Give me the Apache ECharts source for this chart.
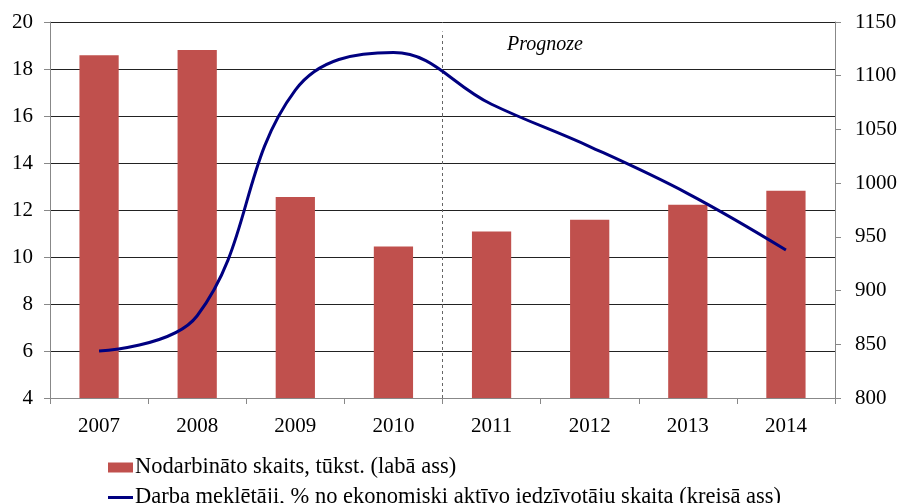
<!DOCTYPE html>
<html>
<head>
<meta charset="utf-8">
<script src="https://cdn.jsdelivr.net/npm/echarts@6/dist/echarts.min.js"></script>
<style>
  html, body { margin: 0; padding: 0; background: #fff; }
  #chart { width: 902px; height: 503px; }
</style>
</head>
<body>
<div id="chart"></div>
<script>
// dati
const years = ['2007', '2008', '2009', '2010', '2011', '2012', '2013', '2014'];
const employed = [1119, 1124, 987, 941, 955, 966, 980, 993];          // labā ass
const jobSeekers = [6.0, 7.5, 17.1, 18.7, 16.5, 14.7, 12.7, 10.3];   // kreisā ass
const forecastSplit = [[4, 4], [4, 19.6]];                            // robeža starp 2010 un 2011

const barName = 'Nodarbināto skaits, tūkst. (labā ass)';
const lineName = 'Darba meklētāji, % no ekonomiski aktīvo iedzīvotāju skaita (kreisā ass)';

const font = '"Liberation Serif", "Times New Roman", serif';
const gridColor = '#222';
const axisGray = '#888';

const chart = echarts.init(document.getElementById('chart'));

const legendText = { fontFamily: font, fontSize: 22.5, lineHeight: 22, color: '#000', padding: [0, 0, 0, -3] };

chart.setOption({
  animation: false,
  backgroundColor: '#fff',
  textStyle: { fontFamily: font },
  grid: { left: 50, right: 67, top: 22, bottom: 105 },
  legend: [
    {
      left: 103, top: 451,
      itemWidth: 25, itemHeight: 10,
      textStyle: legendText,
      data: [{ name: barName, icon: 'rect' }]
    },
    {
      left: 103, top: 481,
      itemWidth: 25, itemHeight: 10,
      textStyle: legendText,
      data: [{ name: lineName, icon: 'path://M0,3.5 L25,3.5 L25,6.5 L0,6.5 Z' }]
    }
  ],
  xAxis: [
    {
      type: 'category',
      data: years,
      axisLine: { lineStyle: { color: axisGray, width: 1 } },
      axisTick: { show: true, length: 6, lineStyle: { color: axisGray } },
      axisLabel: { color: '#000', fontSize: 21, fontFamily: font, margin: 18 }
    },
    { type: 'value', min: 0, max: 8, show: false }
  ],
  yAxis: [
    {
      type: 'value',
      min: 4, max: 20, interval: 2,
      axisLine: { show: true, lineStyle: { color: axisGray } },
      axisTick: { show: true, length: 6, lineStyle: { color: axisGray } },
      axisLabel: { color: '#000', fontSize: 21, fontFamily: font, margin: 17 },
      splitLine: { show: true, lineStyle: { color: gridColor, width: 1 } }
    },
    {
      type: 'value',
      min: 800, max: 1150, interval: 50,
      position: 'right',
      axisLine: { show: true, lineStyle: { color: axisGray } },
      axisTick: { show: true, length: 6, lineStyle: { color: axisGray } },
      axisLabel: { color: '#000', fontSize: 21, fontFamily: font, margin: 20, formatter: v => String(v) },
      splitLine: { show: false }
    }
  ],
  series: [
    {
      name: barName,
      type: 'bar',
      yAxisIndex: 1,
      data: employed,
      barWidth: '40%',
      itemStyle: { color: '#C0504D' }
    },
    {
      name: lineName,
      type: 'line',
      yAxisIndex: 0,
      data: jobSeekers,
      smooth: 0.4,
      showSymbol: false,
      lineStyle: { color: '#000080', width: 3 },
      itemStyle: { color: '#000080' },
      z: 5
    },
    {
      type: 'line',
      xAxisIndex: 1,
      yAxisIndex: 0,
      data: forecastSplit,
      showSymbol: false,
      silent: true,
      lineStyle: { color: '#666', width: 1, type: [3, 3] },
      z: 1
    }
  ],
  graphic: [
    {
      type: 'text',
      left: 507,
      top: 35,
      style: {
        text: 'Prognoze',
        font: 'italic 20px "Liberation Serif", serif',
        fill: '#000'
      }
    }
  ]
});
</script>
</body>
</html>
